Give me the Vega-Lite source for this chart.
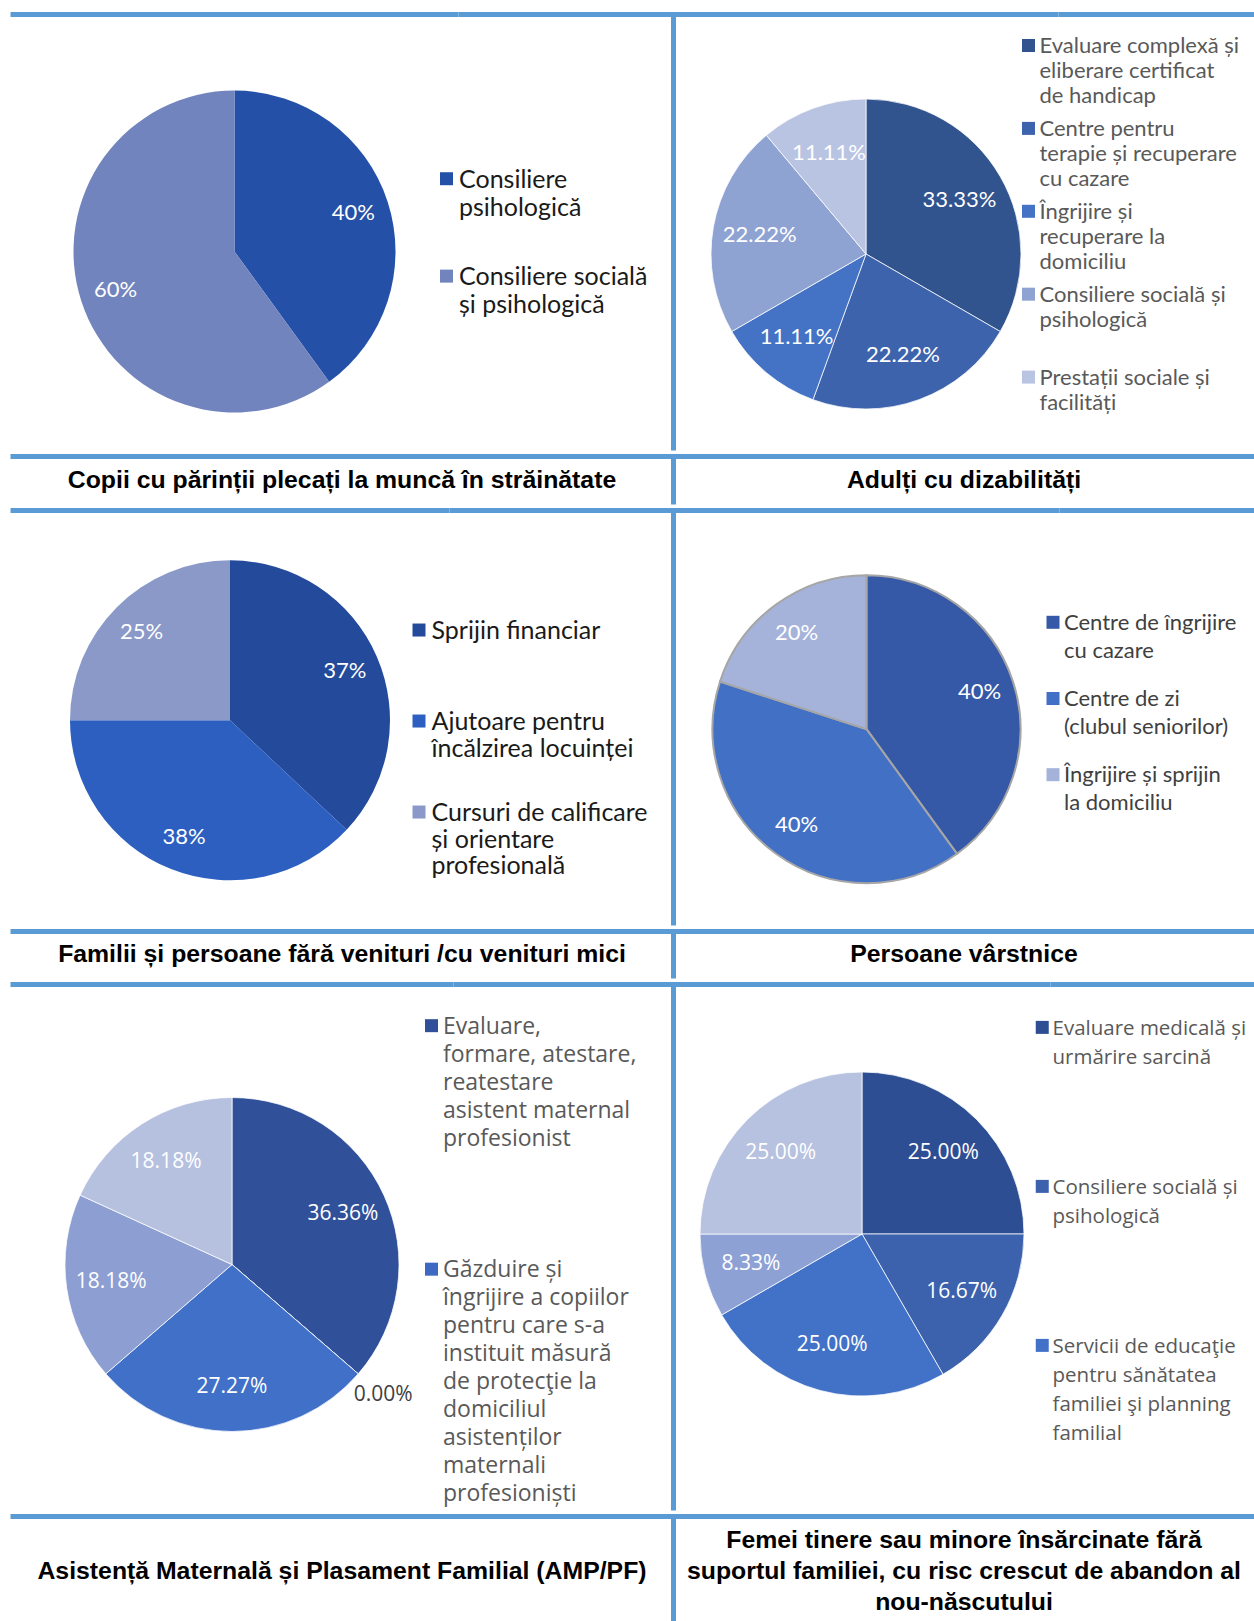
{
  "$schema": "https://vega.github.io/schema/vega-lite/v6.json",
  "background": "white",
  "padding": {"left": 7.5, "top": 11.5, "right": 0, "bottom": 0},
  "spacing": 0,
  "config": {
    "view": {"stroke": null},
    "style": {"guide-label": {"lineHeight": 28}}
  },
  "datasets": {
    "p1": [
      {"i": 1, "k": "Consiliere|psihologică", "v": 0.40},
      {"i": 2, "k": "Consiliere socială|și psihologică", "v": 0.60}
    ],
    "p2": [
      {"i": 1, "k": "Evaluare complexă și|eliberare certificat|de handicap", "v": 0.3333},
      {"i": 2, "k": "Centre pentru|terapie și recuperare|cu cazare", "v": 0.2222},
      {"i": 3, "k": "Îngrijire și|recuperare la|domiciliu", "v": 0.1111},
      {"i": 4, "k": "Consiliere socială și|psihologică", "v": 0.2222},
      {"i": 5, "k": "Prestații sociale și|facilități", "v": 0.1111}
    ],
    "p3": [
      {"i": 1, "k": "Sprijin financiar", "v": 0.37},
      {"i": 2, "k": "Ajutoare pentru|încălzirea locuinței", "v": 0.38},
      {"i": 3, "k": "Cursuri de calificare|și orientare|profesională", "v": 0.25}
    ],
    "p4": [
      {"i": 1, "k": "Centre de îngrijire|cu cazare", "v": 0.40},
      {"i": 2, "k": "Centre de zi|(clubul seniorilor)", "v": 0.40},
      {"i": 3, "k": "Îngrijire și sprijin|la domiciliu", "v": 0.20}
    ],
    "p5": [
      {"i": 1, "k": "Evaluare,|formare, atestare,|reatestare|asistent maternal|profesionist", "v": 0.3636},
      {"i": 2, "k": "Găzduire și|îngrijire a copiilor|pentru care s-a|instituit măsură|de protecţie la|domiciliul|asistenților|maternali|profesioniști", "v": 0.0},
      {"i": 3, "k": "Categoria 3", "v": 0.2727},
      {"i": 4, "k": "Categoria 4", "v": 0.1818},
      {"i": 5, "k": "Categoria 5", "v": 0.1818}
    ],
    "p6": [
      {"i": 1, "k": "Evaluare medicală și|urmărire sarcină", "v": 0.25},
      {"i": 2, "k": "Consiliere socială și|psihologică", "v": 0.1667},
      {"i": 3, "k": "Servicii de educaţie|pentru sănătatea|familiei şi planning|familial", "v": 0.25},
      {"i": 4, "k": "Categoria 4", "v": 0.0833},
      {"i": 5, "k": "Categoria 5", "v": 0.25}
    ],
    "titles": [
      {"id": 1, "t": "Copii cu părinții plecați la muncă în străinătate"},
      {"id": 2, "t": "Adulți cu dizabilități"},
      {"id": 3, "t": "Familii și persoane fără venituri /cu venituri mici"},
      {"id": 4, "t": "Persoane vârstnice"},
      {"id": 5, "t": "Asistență Maternală și Plasament Familial (AMP/PF)"},
      {"id": 6, "t": "Femei tinere sau minore însărcinate fără|suportul familiei, cu risc crescut de abandon al|nou-născutului"}
    ]
  },
  "resolve": {"scale": {"color": "independent", "theta": "independent"}, "legend": {"color": "independent"}},
  "vconcat": [
    {
      "hconcat": [
        {
          "width": 448, "height": 436,
          "view": {"stroke": "#5B9BD5", "strokeWidth": 5, "strokeDash": [448, 1320]},
          "data": {"name": "p1"},
          "encoding": {"theta": {"field": "v", "type": "quantitative", "stack": true}, "order": {"field": "i", "type": "quantitative"}},
          "layer": [
            {"mark": {"type": "arc", "radius": 161, "yOffset": 19}, "encoding": {"color": {"field": "k", "type": "nominal", "scale": {"domain": ["Consiliere|psihologică", "Consiliere socială|și psihologică"], "range": ["#2550A8", "#7284BE"]}, "legend": null}}},
            {"mark": {"type": "text", "radius": 125, "yOffset": 19, "font": "Lato", "fontSize": 22, "fill": "#ffffff"}, "encoding": {"text": {"field": "v", "type": "quantitative", "format": ".0%"}}}
          ]
        },
        {
          "width": 215, "height": 436,
          "view": {"stroke": "#5B9BD5", "strokeWidth": 5, "strokeDash": [651, 651]},
          "data": {"name": "p1"},
          "mark": {"type": "text", "text": ""},
          "encoding": {"color": {"field": "k", "type": "nominal",
            "scale": {"domain": ["Consiliere|psihologică", "Consiliere socială|și psihologică"], "range": ["#2550A8", "#7284BE"]},
            "legend": {"title": null, "orient": "none", "legendX": -24.5, "legendY": 141, "direction": "vertical", "gridAlign": "all", "rowPadding": 31.4, "padding": 0,
              "symbolType": "M-1,0.65H1V2.65H-1Z", "symbolSize": 169, "symbolStrokeWidth": 0,
              "labelFont": "Lato", "labelFontSize": 25, "labelColor": "#1a1a1a", "labelBaseline": "top", "labelOffset": 0, "labelLimit": 500,
              "labelExpr": "split(datum.label, '|')",
              "encoding": {"labels": {"lineHeight": {"value": 28}}}}}}
        },
        {
          "width": 385, "height": 436,
          "view": {"stroke": "#5B9BD5", "strokeWidth": 5, "strokeDash": [385, 1257]},
          "data": {"name": "p2"},
          "encoding": {"theta": {"field": "v", "type": "quantitative", "stack": true}, "order": {"field": "i", "type": "quantitative"}},
          "layer": [
            {"mark": {"type": "arc", "radius": 155, "yOffset": 21.5, "stroke": "#ffffff", "strokeWidth": 0.75}, "encoding": {"color": {"field": "k", "type": "nominal", "scale": {"domain": ["Evaluare complexă și|eliberare certificat|de handicap", "Centre pentru|terapie și recuperare|cu cazare", "Îngrijire și|recuperare la|domiciliu", "Consiliere socială și|psihologică", "Prestații sociale și|facilități"], "range": ["#31548F", "#3C63AC", "#4472C4", "#8FA3D3", "#B9C3E2"]}, "legend": null}}},
            {"mark": {"type": "text", "radius": 108, "yOffset": 21.5, "font": "Lato", "fontSize": 22, "fill": "#ffffff"}, "encoding": {"text": {"field": "v", "type": "quantitative", "format": ".2%"}}}
          ]
        },
        {
          "width": 196, "height": 436,
          "view": {"stroke": "#5B9BD5", "strokeWidth": 5, "strokeDash": [196, 1068]},
          "data": {"name": "p2"},
          "mark": {"type": "text", "text": ""},
          "encoding": {"color": {"field": "k", "type": "nominal",
            "scale": {"domain": ["Evaluare complexă și|eliberare certificat|de handicap", "Centre pentru|terapie și recuperare|cu cazare", "Îngrijire și|recuperare la|domiciliu", "Consiliere socială și|psihologică", "Prestații sociale și|facilități"], "range": ["#31548F", "#3C63AC", "#4472C4", "#8FA3D3", "#B9C3E2"]},
            "legend": {"title": null, "orient": "none", "legendX": -41, "legendY": 10.5, "direction": "vertical", "gridAlign": "all", "rowPadding": 0.9, "padding": 0,
              "symbolType": "M-1,0.46H1V2.46H-1Z", "symbolSize": 169, "symbolStrokeWidth": 0,
              "labelFont": "Lato", "labelFontSize": 22, "labelColor": "#595959", "labelBaseline": "top", "labelOffset": 0, "labelLimit": 500,
              "labelExpr": "split(datum.label, '|')",
              "encoding": {"labels": {"lineHeight": {"value": 25}}}}}}
        }
      ],
      "spacing": 0, "bounds": "flush",
      "resolve": {"scale": {"color": "independent", "theta": "independent"}, "legend": {"color": "independent"}}
    },
    {
      "hconcat": [
        {"width": 663, "height": 48, "view": {"stroke": "#5B9BD5", "strokeWidth": 5, "strokeDash": [711, 711]},
         "data": {"name": "titles"}, "transform": [{"filter": "datum.id == 1"}],
         "mark": {"type": "text", "font": "Liberation Sans", "fontWeight": "bold", "fontSize": 24.8, "color": "#000000"},
         "encoding": {"text": {"field": "t", "type": "nominal"}}},
        {"width": 581, "height": 48, "view": {"stroke": "#5B9BD5", "strokeWidth": 5, "strokeDash": [581, 677]},
         "data": {"name": "titles"}, "transform": [{"filter": "datum.id == 2"}],
         "mark": {"type": "text", "font": "Liberation Sans", "fontWeight": "bold", "fontSize": 24.8, "color": "#000000"},
         "encoding": {"text": {"field": "t", "type": "nominal"}}}
      ],
      "spacing": 0, "bounds": "flush"
    },
    {
      "hconcat": [
        {
          "width": 439, "height": 415,
          "view": {"stroke": "#5B9BD5", "strokeWidth": 5, "strokeDash": [439, 1269]},
          "data": {"name": "p3"},
          "encoding": {"theta": {"field": "v", "type": "quantitative", "stack": true}, "order": {"field": "i", "type": "quantitative"}},
          "layer": [
            {"mark": {"type": "arc", "radius": 160, "yOffset": 2.3}, "encoding": {"color": {"field": "k", "type": "nominal", "scale": {"domain": ["Sprijin financiar", "Ajutoare pentru|încălzirea locuinței", "Cursuri de calificare|și orientare|profesională"], "range": ["#234A9B", "#2C5FBF", "#8A99C8"]}, "legend": null}}},
            {"mark": {"type": "text", "radius": 125, "yOffset": 2.3, "font": "Lato", "fontSize": 22, "fill": "#ffffff"}, "encoding": {"text": {"field": "v", "type": "quantitative", "format": ".0%"}}}
          ]
        },
        {
          "width": 224, "height": 415,
          "view": {"stroke": "#5B9BD5", "strokeWidth": 5, "strokeDash": [639, 639]},
          "data": {"name": "p3"},
          "mark": {"type": "text", "text": ""},
          "encoding": {"color": {"field": "k", "type": "nominal",
            "scale": {"domain": ["Sprijin financiar", "Ajutoare pentru|încălzirea locuinței", "Cursuri de calificare|și orientare|profesională"], "range": ["#234A9B", "#2C5FBF", "#8A99C8"]},
            "legend": {"title": null, "orient": "none", "legendX": -43, "legendY": 96.3, "direction": "vertical", "gridAlign": "all", "rowPadding": 0, "padding": 0,
              "symbolType": "M-1,0.65H1V2.65H-1Z", "symbolSize": 169, "symbolStrokeWidth": 0,
              "labelFont": "Lato", "labelFontSize": 25, "labelColor": "#1a1a1a", "labelBaseline": "top", "labelOffset": 0, "labelLimit": 500,
              "labelExpr": "split(datum.label, '|')",
              "encoding": {"labels": {"lineHeight": {"value": 26.5}}}}}}
        },
        {
          "width": 386, "height": 415,
          "view": {"stroke": "#5B9BD5", "strokeWidth": 5, "strokeDash": [386, 1216]},
          "data": {"name": "p4"},
          "encoding": {"theta": {"field": "v", "type": "quantitative", "stack": true}, "order": {"field": "i", "type": "quantitative"}},
          "layer": [
            {"mark": {"type": "arc", "radius": 154, "yOffset": 11.2, "stroke": "#a6a6a6", "strokeWidth": 2}, "encoding": {"color": {"field": "k", "type": "nominal", "scale": {"domain": ["Centre de îngrijire|cu cazare", "Centre de zi|(clubul seniorilor)", "Îngrijire și sprijin|la domiciliu"], "range": ["#3559A6", "#4270C5", "#A5B3DA"]}, "legend": null}}},
            {"mark": {"type": "text", "radius": 119, "yOffset": 11.2, "font": "Lato", "fontSize": 22, "fill": "#ffffff"}, "encoding": {"text": {"field": "v", "type": "quantitative", "format": ".0%"}}}
          ]
        },
        {
          "width": 195, "height": 415,
          "view": {"stroke": "#5B9BD5", "strokeWidth": 5, "strokeDash": [195, 1025]},
          "data": {"name": "p4"},
          "mark": {"type": "text", "text": ""},
          "encoding": {"color": {"field": "k", "type": "nominal",
            "scale": {"domain": ["Centre de îngrijire|cu cazare", "Centre de zi|(clubul seniorilor)", "Îngrijire și sprijin|la domiciliu"], "range": ["#3559A6", "#4270C5", "#A5B3DA"]},
            "legend": {"title": null, "orient": "none", "legendX": -17.5, "legendY": 91.3, "direction": "vertical", "gridAlign": "all", "rowPadding": 16.2, "padding": 0,
              "symbolType": "M-1,0.46H1V2.46H-1Z", "symbolSize": 169, "symbolStrokeWidth": 0,
              "labelFont": "Lato", "labelFontSize": 22, "labelColor": "#404040", "labelBaseline": "top", "labelOffset": 0, "labelLimit": 500,
              "labelExpr": "split(datum.label, '|')",
              "encoding": {"labels": {"lineHeight": {"value": 28}}}}}}
        }
      ],
      "spacing": 0, "bounds": "flush",
      "resolve": {"scale": {"color": "independent", "theta": "independent"}, "legend": {"color": "independent"}}
    },
    {
      "hconcat": [
        {"width": 663, "height": 47, "view": {"stroke": "#5B9BD5", "strokeWidth": 5, "strokeDash": [710, 710]},
         "data": {"name": "titles"}, "transform": [{"filter": "datum.id == 3"}],
         "mark": {"type": "text", "font": "Liberation Sans", "fontWeight": "bold", "fontSize": 24.8, "color": "#000000"},
         "encoding": {"text": {"field": "t", "type": "nominal"}}},
        {"width": 581, "height": 47, "view": {"stroke": "#5B9BD5", "strokeWidth": 5, "strokeDash": [581, 675]},
         "data": {"name": "titles"}, "transform": [{"filter": "datum.id == 4"}],
         "mark": {"type": "text", "font": "Liberation Sans", "fontWeight": "bold", "fontSize": 24.8, "color": "#000000"},
         "encoding": {"text": {"field": "t", "type": "nominal"}}}
      ],
      "spacing": 0, "bounds": "flush"
    },
    {
      "hconcat": [
        {
          "width": 443, "height": 526,
          "view": {"stroke": "#5B9BD5", "strokeWidth": 5, "strokeDash": [443, 1495]},
          "data": {"name": "p5"},
          "encoding": {"theta": {"field": "v", "type": "quantitative", "stack": true}, "order": {"field": "i", "type": "quantitative"}},
          "layer": [
            {"mark": {"type": "arc", "radius": 167, "yOffset": 17, "stroke": "#ffffff", "strokeWidth": 0.75}, "encoding": {"color": {"field": "k", "type": "nominal", "scale": {"domain": ["Evaluare,|formare, atestare,|reatestare|asistent maternal|profesionist", "Găzduire și|îngrijire a copiilor|pentru care s-a|instituit măsură|de protecţie la|domiciliul|asistenților|maternali|profesioniști", "Categoria 3", "Categoria 4", "Categoria 5"], "range": ["#30509A", "#3D69C2", "#4070C8", "#8C9ED2", "#B6C1E0"]}, "legend": null}}},
            {"mark": {"type": "text", "radius": 122, "yOffset": 17, "font": "Open Sans", "fontSize": 21, "fill": "#ffffff"}, "encoding": {"text": {"field": "v", "type": "quantitative", "format": ".2%", "condition": {"test": "datum.v == 0", "value": ""}}}},
            {"mark": {"type": "text", "radius": 200, "yOffset": 17, "font": "Open Sans", "fontSize": 21, "fill": "#404040"}, "encoding": {"text": {"field": "v", "type": "quantitative", "format": ".2%", "condition": {"test": "datum.v > 0", "value": ""}}}}
          ]
        },
        {
          "width": 220, "height": 526,
          "view": {"stroke": "#5B9BD5", "strokeWidth": 5, "strokeDash": [746, 746]},
          "data": {"name": "p5"},
          "mark": {"type": "text", "text": ""},
          "encoding": {"color": {"field": "k", "type": "nominal",
            "scale": {"domain": ["Evaluare,|formare, atestare,|reatestare|asistent maternal|profesionist", "Găzduire și|îngrijire a copiilor|pentru care s-a|instituit măsură|de protecţie la|domiciliul|asistenților|maternali|profesioniști", "Categoria 3", "Categoria 4", "Categoria 5"], "range": ["#30509A", "#3D69C2", "#4070C8", "#8C9ED2", "#B6C1E0"]},
            "legend": {"title": null, "orient": "none", "legendX": -33.5, "legendY": 19.6, "direction": "vertical", "gridAlign": "each", "rowPadding": 96.5, "padding": 0,
              "values": ["Evaluare,|formare, atestare,|reatestare|asistent maternal|profesionist", "Găzduire și|îngrijire a copiilor|pentru care s-a|instituit măsură|de protecţie la|domiciliul|asistenților|maternali|profesioniști"],
              "symbolType": "M-1,0.55H1V2.55H-1Z", "symbolSize": 169, "symbolStrokeWidth": 0,
              "labelFont": "Open Sans", "labelFontSize": 23, "labelColor": "#595959", "labelBaseline": "top", "labelOffset": 0, "labelLimit": 500,
              "labelExpr": "split(datum.label, '|')",
              "encoding": {"labels": {"lineHeight": {"value": 28}}}}}}
        },
        {
          "width": 377, "height": 499,
          "view": {"stroke": "#5B9BD5", "strokeWidth": 5, "strokeDash": [377, 1375]},
          "data": {"name": "p6"},
          "encoding": {"theta": {"field": "v", "type": "quantitative", "stack": true}, "order": {"field": "i", "type": "quantitative"}},
          "layer": [
            {"mark": {"type": "arc", "radius": 162, "stroke": "#ffffff", "strokeWidth": 0.75}, "encoding": {"color": {"field": "k", "type": "nominal", "scale": {"domain": ["Evaluare medicală și|urmărire sarcină", "Consiliere socială și|psihologică", "Servicii de educaţie|pentru sănătatea|familiei şi planning|familial", "Categoria 4", "Categoria 5"], "range": ["#2E4E93", "#3C62AE", "#4272C8", "#8EA1D5", "#B7C1E0"]}, "legend": null}}},
            {"mark": {"type": "text", "radius": 115, "font": "Open Sans", "fontSize": 21, "fill": "#ffffff"}, "encoding": {"text": {"field": "v", "type": "quantitative", "format": ".2%"}}}
          ]
        },
        {
          "width": 204, "height": 526,
          "view": {"stroke": "#5B9BD5", "strokeWidth": 5, "strokeDash": [204, 1256]},
          "data": {"name": "p6"},
          "mark": {"type": "text", "text": ""},
          "encoding": {"color": {"field": "k", "type": "nominal",
            "scale": {"domain": ["Evaluare medicală și|urmărire sarcină", "Consiliere socială și|psihologică", "Servicii de educaţie|pentru sănătatea|familiei şi planning|familial", "Categoria 4", "Categoria 5"], "range": ["#2E4E93", "#3C62AE", "#4272C8", "#8EA1D5", "#B7C1E0"]},
            "legend": {"title": null, "orient": "none", "legendX": -18.5, "legendY": 23.8, "direction": "vertical", "gridAlign": "all", "rowPadding": 41, "padding": 0,
              "values": ["Evaluare medicală și|urmărire sarcină", "Consiliere socială și|psihologică", "Servicii de educaţie|pentru sănătatea|familiei şi planning|familial"],
              "symbolType": "M-1,0.36H1V2.36H-1Z", "symbolSize": 169, "symbolStrokeWidth": 0,
              "labelFont": "Open Sans", "labelFontSize": 20.5, "labelColor": "#595959", "labelBaseline": "top", "labelOffset": 0, "labelLimit": 500,
              "labelExpr": "split(datum.label, '|')",
              "encoding": {"labels": {"lineHeight": {"value": 29}}}}}}
        }
      ],
      "spacing": 0, "bounds": "flush",
      "resolve": {"scale": {"color": "independent", "theta": "independent"}, "legend": {"color": "independent"}}
    },
    {
      "hconcat": [
        {"width": 663, "height": 110, "view": {"stroke": "#5B9BD5", "strokeWidth": 5, "strokeDash": [773, 773]},
         "data": {"name": "titles"}, "transform": [{"filter": "datum.id == 5"}],
         "mark": {"type": "text", "font": "Liberation Sans", "fontWeight": "bold", "fontSize": 24.8, "color": "#000000"},
         "encoding": {"text": {"field": "t", "type": "nominal"}}},
        {"width": 581, "height": 110, "view": {"stroke": "#5B9BD5", "strokeWidth": 5, "strokeDash": [581, 801]},
         "data": {"name": "titles"}, "transform": [{"filter": "datum.id == 6"}],
         "mark": {"type": "text", "font": "Liberation Sans", "fontWeight": "bold", "fontSize": 24.8, "color": "#000000", "lineBreak": "|", "lineHeight": 31, "dy": -31},
         "encoding": {"text": {"field": "t", "type": "nominal"}}}
      ],
      "spacing": 0, "bounds": "flush"
    }
  ]
}
